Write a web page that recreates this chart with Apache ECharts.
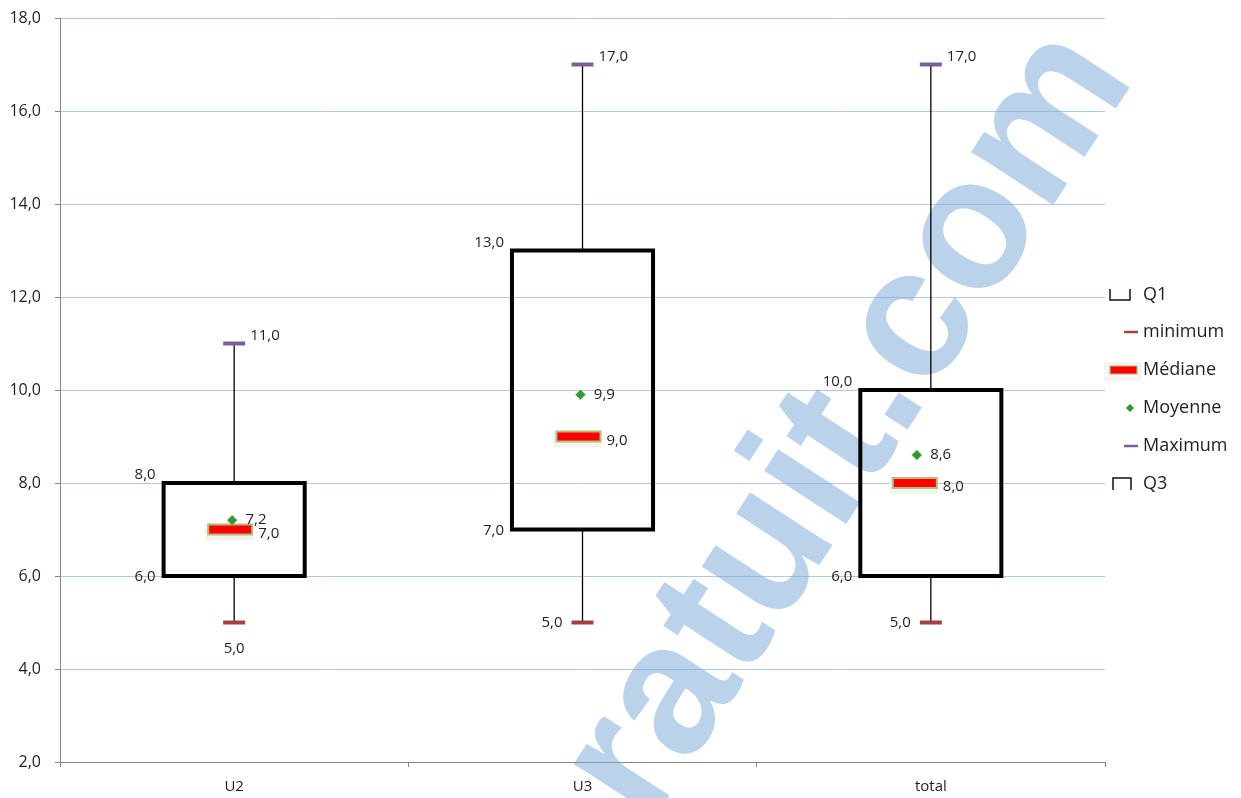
<!DOCTYPE html>
<html>
<head>
<meta charset="utf-8">
<script src="https://cdn.jsdelivr.net/npm/echarts@6/dist/echarts.min.js"></script>
<style>
  html, body { margin: 0; padding: 0; background: #ffffff; }
  #chart { width: 1241px; height: 798px; }
</style>
</head>
<body>
<div id="chart"></div>
<script>
// Five-number summaries plus mean, per group
const categories = ['U2', 'U3', 'total'];
const minimum = [5, 5, 5];
const q1      = [6, 7, 6];
const median  = [7, 9, 8];
const mean    = [7.2, 9.9, 8.6];
const q3      = [8, 13, 10];
const maximum = [11, 17, 17];

// Value axis range
const yMin = 2, yMax = 18, yStep = 2;

// Per-group drawing style: where the minimum label sits, and a sideways
// nudge (px) of the median bar and mean marker inside the box
const minLabelSide = ['below', 'left', 'left'];
const markerNudge = [0, 0, -12];

const fmt = v => v.toFixed(1).replace('.', ',');
const FONT_FAMILY = '"Open Sans", "Noto Sans", sans-serif';
const TEXT = '#1f1f1f';
const MIN_COLOR = '#a5403c';
const MAX_COLOR = '#7b5e9a';
const MEAN_COLOR = '#22a03a';

const boxData = categories.map((c, i) => [i, minimum[i], q1[i], q3[i], maximum[i]]);
const medianData = categories.map((c, i) => [i, median[i]]);
const meanData = categories.map((c, i) => ({ value: [i, mean[i]], symbolOffset: [-2 + markerNudge[i], 0] }));

function label(text, x, y, align, vAlign) {
  return {
    type: 'text', x, y, z2: 10,
    style: { text, fill: TEXT, font: '15px ' + FONT_FAMILY, align, verticalAlign: vAlign || 'middle' }
  };
}

function renderBox(params, api) {
  const i = api.value(0);
  const pMin = api.coord([i, api.value(1)]);
  const cx = pMin[0];
  const yMinPx = pMin[1];
  const yQ1 = api.coord([i, api.value(2)])[1];
  const yQ3 = api.coord([i, api.value(3)])[1];
  const yMaxPx = api.coord([i, api.value(4)])[1];
  const band = api.size([1, 0])[0];
  const bw = band * 0.405;
  const left = cx - bw / 2;
  const capW = 22, capH = 4;

  const children = [
    { type: 'line', shape: { x1: cx, y1: yMaxPx, x2: cx, y2: yQ3 }, style: { stroke: '#000', lineWidth: 1.3 } },
    { type: 'line', shape: { x1: cx, y1: yQ1, x2: cx, y2: yMinPx }, style: { stroke: '#000', lineWidth: 1.3 } },
    { type: 'rect', shape: { x: left, y: yQ3, width: bw, height: yQ1 - yQ3 },
      style: { fill: null, stroke: '#000', lineWidth: 4 } },
    { type: 'rect', shape: { x: cx - capW / 2, y: yMinPx - capH / 2, width: capW, height: capH },
      style: { fill: MIN_COLOR } },
    { type: 'rect', shape: { x: cx - capW / 2, y: yMaxPx - capH / 2, width: capW, height: capH },
      style: { fill: MAX_COLOR } },
    label(fmt(api.value(4)), cx + 16, yMaxPx - 8, 'left'),
    label(fmt(api.value(3)), left - 8, yQ3 - 8, 'right'),
    label(fmt(api.value(2)), left - 8, yQ1 + 1, 'right')
  ];
  if (minLabelSide[params.dataIndex] === 'below') {
    children.push(label(fmt(api.value(1)), cx, yMinPx + 26, 'center'));
  } else {
    children.push(label(fmt(api.value(1)), cx - 20, yMinPx, 'right'));
  }
  return { type: 'group', children };
}

function renderMedian(params, api) {
  const i = api.value(0);
  const p = api.coord([i, api.value(1)]);
  const w = 44, h = 10;
  const x0 = p[0] - 4 + markerNudge[params.dataIndex] - w / 2;
  return {
    type: 'group',
    children: [
      { type: 'rect', shape: { x: x0 - 3, y: p[1] - h / 2 - 1, width: w + 4, height: h + 7 },
        style: { fill: '#f3f3f0' } },
      { type: 'rect', shape: { x: x0, y: p[1] - h / 2, width: w, height: h },
        style: { fill: '#ff0000', stroke: '#adc07c', lineWidth: 2 } },
      label(fmt(api.value(1)), x0 + w + 6, p[1] + 4, 'left')
    ]
  };
}

// Legend drawn at the right edge
const LX = 1143;
const legendFont = '18px ' + FONT_FAMILY;
function legendText(text, y) {
  return { type: 'text', x: LX, y, z: 5, style: { text, fill: TEXT, font: legendFont, verticalAlign: 'middle' } };
}
const legendItems = [
  { type: 'polyline', z: 5, shape: { points: [[1110, 289], [1110, 300], [1130, 300], [1130, 289]] },
    style: { stroke: '#111', lineWidth: 1.5, fill: null } },
  legendText('Q1', 295),
  { type: 'line', z: 5, shape: { x1: 1124, y1: 332, x2: 1138, y2: 332 }, style: { stroke: MIN_COLOR, lineWidth: 2.5 } },
  legendText('minimum', 332),
  { type: 'rect', z: 5, shape: { x: 1104, y: 362, width: 38, height: 19 }, style: { fill: '#f5f5f3' } },
  { type: 'rect', z: 5, shape: { x: 1110, y: 366, width: 27, height: 8 },
    style: { fill: '#ff0000', stroke: '#adc07c', lineWidth: 1.2 } },
  legendText('Médiane', 370),
  { type: 'polygon', z: 5, shape: { points: [[1130, 404], [1134, 408], [1130, 412], [1126, 408]] },
    style: { fill: MEAN_COLOR, stroke: '#c89a58', lineWidth: 0.6 } },
  legendText('Moyenne', 408),
  { type: 'line', z: 5, shape: { x1: 1124, y1: 446, x2: 1138, y2: 446 }, style: { stroke: MAX_COLOR, lineWidth: 2.5 } },
  legendText('Maximum', 446),
  { type: 'polyline', z: 5, shape: { points: [[1113, 490], [1113, 478], [1131, 478], [1131, 490]] },
    style: { stroke: '#111', lineWidth: 1.5, fill: null } },
  legendText('Q3', 484)
];

// Site mark running diagonally across the plot
const mark = {
  type: 'text', x: 606, y: 800, z: 1,
  rotation: 57 * Math.PI / 180,
  style: {
    text: 'ratuit.com',
    font: 'bold 185px "Liberation Sans", Arial, sans-serif',
    fill: 'rgba(120,165,215,0.5)',
    align: 'left', verticalAlign: 'middle'
  }
};

const chart = echarts.init(document.getElementById('chart'), null, { renderer: 'canvas' });
chart.setOption({
  animation: false,
  backgroundColor: '#ffffff',
  grid: { left: 60, right: 136, top: 18, bottom: 36 },
  xAxis: {
    type: 'category',
    data: categories,
    boundaryGap: true,
    axisLine: { lineStyle: { color: '#868686', width: 1 } },
    axisTick: { show: true, length: 5, lineStyle: { color: '#868686' } },
    axisLabel: { color: TEXT, fontSize: 15, fontFamily: FONT_FAMILY, margin: 17 },
    splitLine: { show: false }
  },
  yAxis: {
    type: 'value',
    min: yMin, max: yMax, interval: yStep,
    axisLine: { show: true, lineStyle: { color: '#868686', width: 1 } },
    axisTick: { show: true, length: 5, lineStyle: { color: '#868686' } },
    axisLabel: { color: TEXT, fontSize: 16, fontFamily: FONT_FAMILY, margin: 19, formatter: v => fmt(v) },
    splitLine: { show: true, lineStyle: { color: '#b4c6e7', width: 1 } }
  },
  graphic: { elements: [mark].concat(legendItems) },
  series: [
    { name: 'box', type: 'custom', z: 3, renderItem: renderBox, data: boxData,
      encode: { x: 0, y: [1, 2, 3, 4] } },
    { name: 'Médiane', type: 'custom', z: 4, renderItem: renderMedian, data: medianData,
      encode: { x: 0, y: 1 } },
    { name: 'Moyenne', type: 'scatter', z: 5, data: meanData,
      symbol: 'diamond', symbolSize: 10,
      itemStyle: { color: MEAN_COLOR, borderColor: '#c89a58', borderWidth: 0.6, opacity: 1 },
      label: { show: true, position: 'right', distance: 8, color: TEXT, fontSize: 15, fontFamily: FONT_FAMILY,
        formatter: p => fmt(p.value[1]) } }
  ]
});
</script>
</body>
</html>
